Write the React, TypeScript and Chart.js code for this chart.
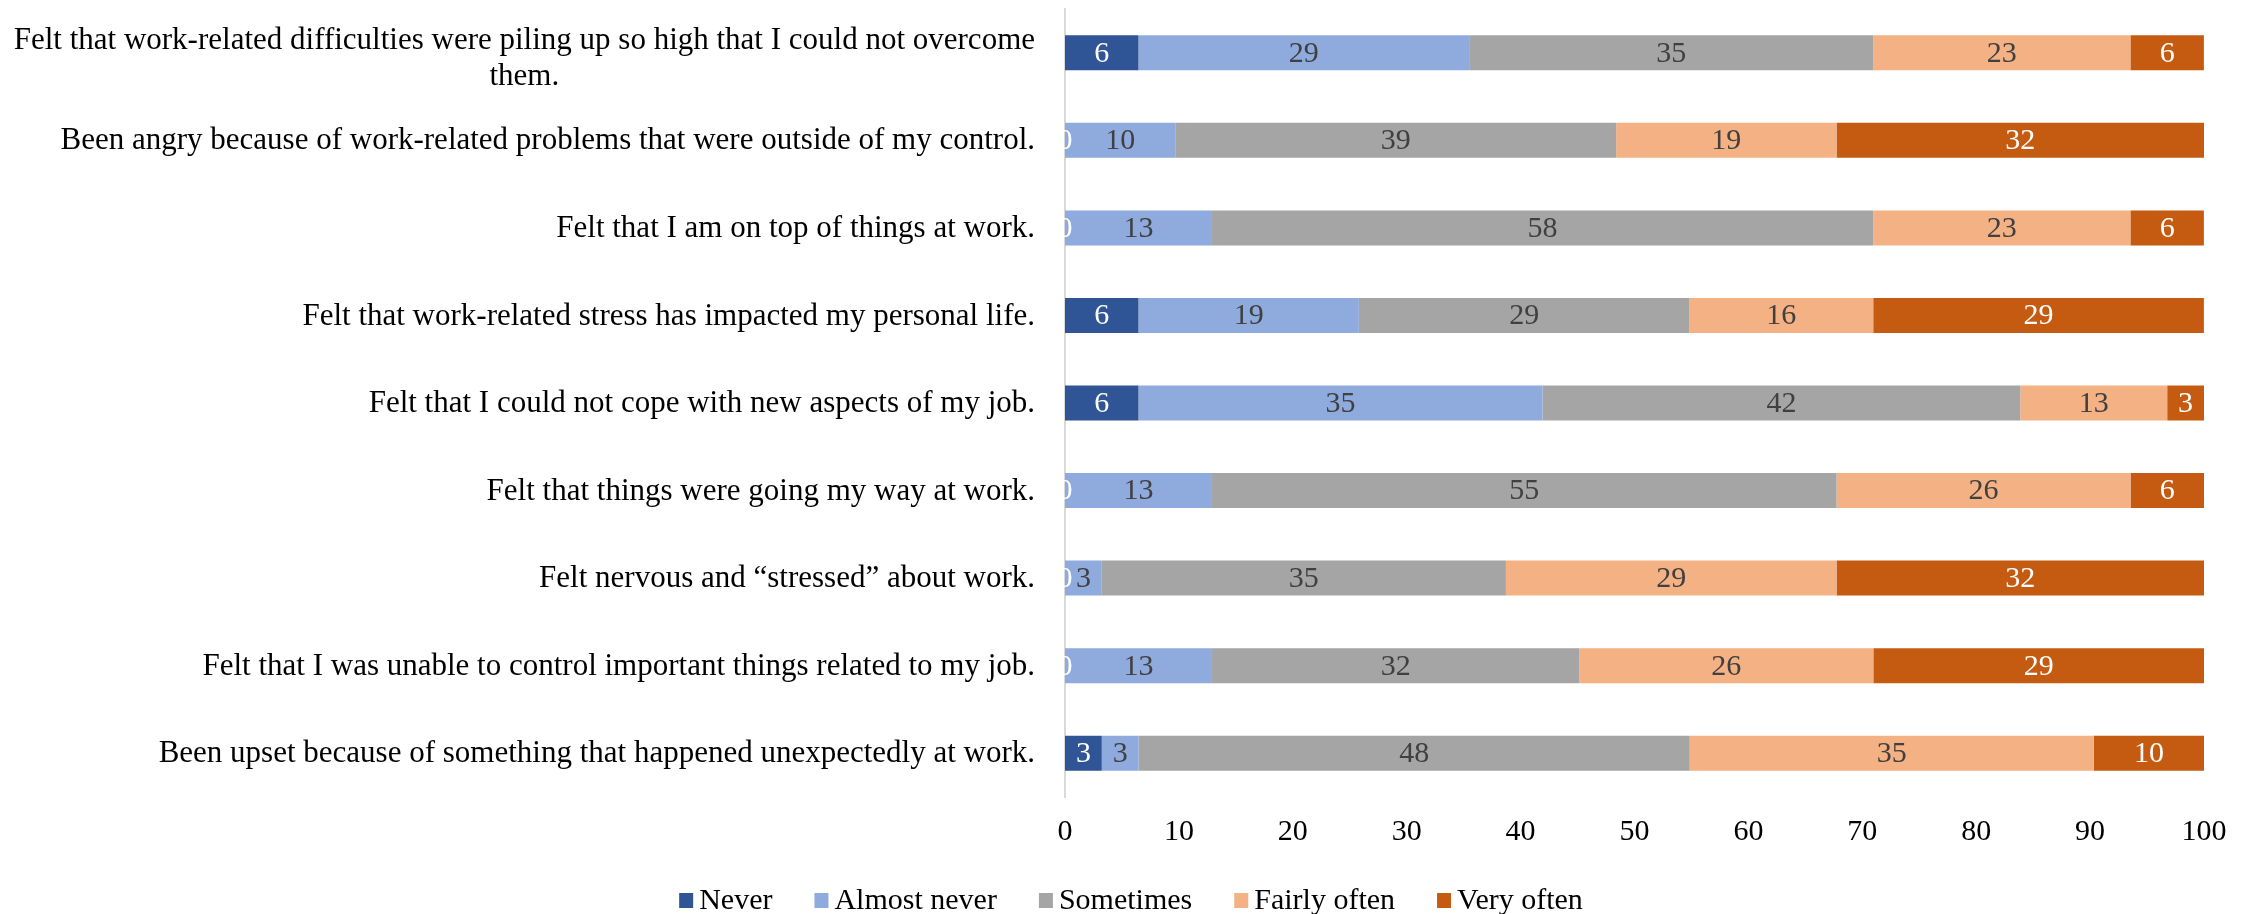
import React, { useEffect, useRef } from "react";
import { Chart, registerables } from "chart.js";

Chart.register(...registerables);

const FONT = '"Liberation Serif", "Times New Roman", serif';

const categories: (string | string[])[] = [
  ["Felt that work-related difficulties were piling up so high that I could not overcome", "them."],
  "Been angry because of work-related problems that were outside of my control.",
  "Felt that I am on top of things at work.",
  "Felt that work-related stress has impacted my personal life.",
  "Felt that I could not cope with new aspects of my job.",
  "Felt that things were going my way at work.",
  "Felt nervous and \u201cstressed\u201d about work.",
  "Felt that I was unable to control important things related to my job.",
  "Been upset because of something that happened unexpectedly at work.",
];

const seriesNames = ["Never", "Almost never", "Sometimes", "Fairly often", "Very often"];

const never = [6.45, 0, 0, 6.45, 6.45, 0, 0, 0, 3.23];
const almostNever = [29.03, 9.68, 12.9, 19.35, 35.48, 12.9, 3.23, 12.9, 3.23];
const sometimes = [35.48, 38.71, 58.06, 29.03, 41.94, 54.84, 35.48, 32.26, 48.39];
const fairlyOften = [22.58, 19.35, 22.58, 16.13, 12.9, 25.81, 29.03, 25.81, 35.48];
const veryOften = [6.45, 32.26, 6.45, 29.03, 3.23, 6.45, 32.26, 29.03, 9.68];

const xTicks = [0, 10, 20, 30, 40, 50, 60, 70, 80, 90, 100];

const colors = ["#2F5597", "#8FAADC", "#A5A5A5", "#F4B183", "#C55A11"];
const labelColors = ["#FFFFFF", "#404040", "#404040", "#404040", "#FFFFFF"];

export default function App() {
  const ref = useRef<HTMLCanvasElement | null>(null);

  useEffect(() => {
    const canvas = ref.current;
    if (!canvas) return;
    const seriesData = [never, almostNever, sometimes, fairlyOften, veryOften];

    const yLabelsPlugin = {
      id: "yLabels",
      afterDraw(chart: any) {
        const ctx = chart.ctx;
        const ys = chart.scales.y;
        const right = chart.chartArea.left - 30;
        ctx.save();
        ctx.font = `31px ${FONT}`;
        ctx.fillStyle = "#000000";
        ctx.textBaseline = "middle";
        ctx.textAlign = "center";
        categories.forEach((lab, i) => {
          const lines = Array.isArray(lab) ? lab : [lab];
          const y = ys.getPixelForValue(i);
          const maxW = Math.max(...lines.map((l) => ctx.measureText(l).width));
          const cx = right - maxW / 2;
          const lh = 36;
          const y0 = y - ((lines.length - 1) * lh) / 2 + (lines.length > 1 ? 6 : 1);
          lines.forEach((l, k) => ctx.fillText(l, cx, y0 + k * lh));
        });
        ctx.restore();
      },
    };

    const dataLabelsPlugin = {
      id: "dataLabels",
      afterDatasetsDraw(chart: any) {
        const ctx = chart.ctx;
        ctx.save();
        ctx.font = `30px ${FONT}`;
        ctx.textAlign = "center";
        ctx.textBaseline = "middle";
        chart.data.datasets.forEach((ds: any, d: number) => {
          const meta = chart.getDatasetMeta(d);
          ctx.fillStyle = labelColors[d];
          meta.data.forEach((bar: any, i: number) => {
            const v = ds.data[i];
            const x = (bar.x + bar.base) / 2;
            ctx.fillText(String(Math.round(v)), x, bar.y + 1);
          });
        });
        ctx.restore();
      },
    };

    const legendPlugin = {
      id: "customLegend",
      afterDraw(chart: any) {
        const ctx = chart.ctx;
        ctx.save();
        ctx.font = `30px ${FONT}`;
        ctx.textBaseline = "middle";
        ctx.textAlign = "left";
        const box = 14;
        const gapBoxText = 6;
        const gapItems = 42;
        const widths = seriesNames.map((n) => ctx.measureText(n).width);
        const total =
          widths.reduce((a, w) => a + box + gapBoxText + w, 0) + gapItems * (seriesNames.length - 1);
        let x = chart.width / 2 - total / 2 + 4;
        const y = 900;
        seriesNames.forEach((n, i) => {
          ctx.fillStyle = colors[i];
          ctx.fillRect(x, y - 7, box, 15);
          ctx.fillStyle = "#000000";
          ctx.fillText(n, x + box + gapBoxText, y + 1);
          x += box + gapBoxText + widths[i] + gapItems;
        });
        ctx.restore();
      },
    };

    const chart = new Chart(canvas, {
      type: "bar",
      data: {
        labels: categories.map((c) => (Array.isArray(c) ? c.join(" ") : c)),
        datasets: seriesData.map((data, i) => ({
          label: seriesNames[i],
          data,
          backgroundColor: colors[i],
          borderWidth: 0,
          categoryPercentage: 1,
          barPercentage: 0.4,
        })),
      },
      options: {
        indexAxis: "y",
        animation: false,
        responsive: false,
        devicePixelRatio: 1,
        layout: { padding: { left: 0, right: 50, top: 9, bottom: 0 } },
        plugins: {
          legend: { display: false },
          tooltip: { enabled: false },
        },
        scales: {
          x: {
            type: "linear",
            stacked: true,
            min: 0,
            max: 100,
            afterBuildTicks: (scale: any) => {
              scale.ticks = xTicks.map((v) => ({ value: v }));
            },
            afterFit: (scale: any) => {
              scale.height = 117;
            },
            grid: { display: false, drawTicks: false },
            border: { display: false },
            ticks: {
              padding: 17,
              color: "#000000",
              font: { family: FONT, size: 30 },
            },
          },
          y: {
            stacked: true,
            afterFit: (scale: any) => {
              scale.width = 1065;
            },
            grid: { display: false, drawTicks: false },
            border: { display: true, color: "#D9D9D9", width: 2 },
            ticks: { display: false },
          },
        },
      },
      plugins: [yLabelsPlugin, dataLabelsPlugin, legendPlugin],
    } as any);

    return () => chart.destroy();
  }, []);

  return (
    <div style={{ position: "absolute", left: 0, top: 0, width: 2254, height: 914, background: "#FFFFFF" }}>
      <canvas ref={ref} width={2254} height={914} style={{ width: 2254, height: 914, display: "block" }} />
    </div>
  );
}
